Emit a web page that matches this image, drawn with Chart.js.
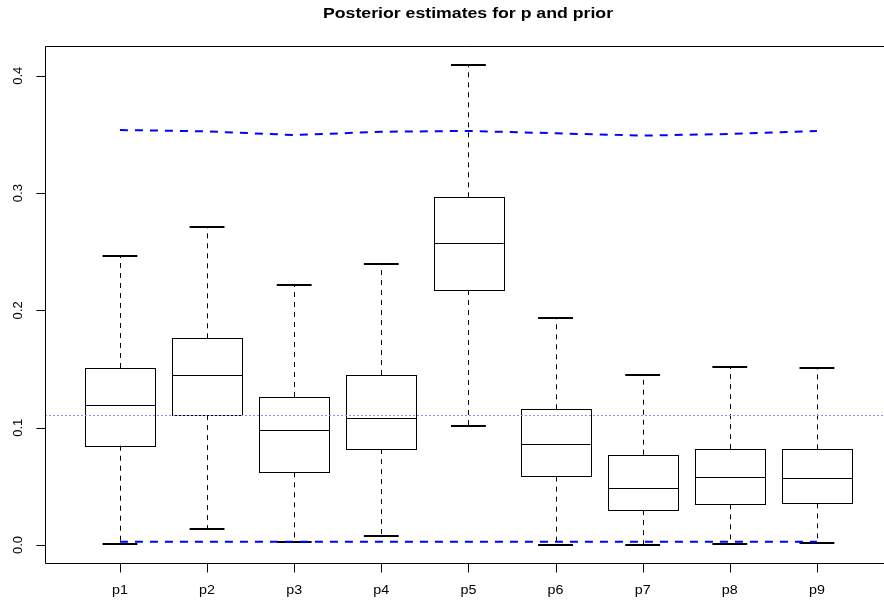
<!DOCTYPE html>
<html>
<head>
<meta charset="utf-8">
<title>Posterior estimates for p and prior</title>
<script src="https://cdn.jsdelivr.net/npm/chart.js@4.4.1/dist/chart.umd.min.js"></script>
<style>
  body { margin: 0; background: #fff; overflow: hidden; }
  #wrap { width: 884px; height: 602px; }
</style>
</head>
<body>
<div id="wrap"><canvas id="boxChart" width="884" height="602"></canvas></div>
<script>
// Box plot statistics per parameter
const categories  = ['p1', 'p2', 'p3', 'p4', 'p5', 'p6', 'p7', 'p8', 'p9'];
const whiskerLow  = [0.0006, 0.0139, 0.0025, 0.0079, 0.1014, 0.0003, 0.0003, 0.0011, 0.0017];
const quartile1   = [0.0847, 0.1108, 0.0620, 0.0818, 0.2174, 0.0583, 0.0298, 0.0347, 0.0355];
const medians     = [0.1196, 0.1447, 0.0983, 0.1085, 0.2572, 0.0861, 0.0483, 0.0583, 0.0569];
const quartile3   = [0.1509, 0.1762, 0.1262, 0.1449, 0.2964, 0.1157, 0.0770, 0.0818, 0.0815];
const whiskerHigh = [0.2464, 0.2714, 0.2217, 0.2396, 0.4095, 0.1938, 0.1449, 0.1520, 0.1506];

// Prior quantile lines and prior mean
const priorUpper = [0.3538, 0.3526, 0.3495, 0.3523, 0.3530, 0.3510, 0.3490, 0.3504, 0.3530];
const priorLower = [0.0028, 0.0028, 0.0028, 0.0028, 0.0028, 0.0028, 0.0028, 0.0028, 0.0028];
const priorMean = 1 / 9;

const yTicks = [0, 0.1, 0.2, 0.3, 0.4];
const yTickLabels = ['0.0', '0.1', '0.2', '0.3', '0.4'];

const BOX_WIDTH = 0.8;
const CAP_WIDTH = 0.4;

function crisp(v) {
    return Math.round(v) + 0.5;
}

// Text with a slight horizontal stretch, like the original device output
function stretchedText(ctx, text, x, y, font, sx) {
    ctx.save();
    ctx.translate(x, y);
    ctx.scale(sx, 1);
    ctx.font = font;
    ctx.textAlign = 'center';
    ctx.textBaseline = 'alphabetic';
    ctx.fillText(text, 0, 0);
    ctx.restore();
}

const boxPlotPlugin = {
    id: 'boxPlot',
    beforeDatasetsDraw(chart) {
        const { ctx, scales: { x, y } } = chart;
        ctx.save();
        ctx.strokeStyle = '#000';
        categories.forEach((cat, i) => {
            const pos = i + 1;
            const cx = crisp(x.getPixelForValue(pos));
            const bl = x.getPixelForValue(pos - BOX_WIDTH / 2);
            const br = x.getPixelForValue(pos + BOX_WIDTH / 2);
            const cl = x.getPixelForValue(pos - CAP_WIDTH / 2);
            const cr = x.getPixelForValue(pos + CAP_WIDTH / 2);
            const yLo = y.getPixelForValue(whiskerLow[i]);
            const yQ1 = y.getPixelForValue(quartile1[i]);
            const yMed = y.getPixelForValue(medians[i]);
            const yQ3 = y.getPixelForValue(quartile3[i]);
            const yHi = y.getPixelForValue(whiskerHigh[i]);

            // whiskers
            ctx.lineWidth = 1;
            ctx.setLineDash([5, 5]);
            ctx.beginPath();
            ctx.moveTo(cx, yQ3);
            ctx.lineTo(cx, yHi);
            ctx.moveTo(cx, yQ1);
            ctx.lineTo(cx, yLo);
            ctx.stroke();
            ctx.setLineDash([]);

            // box
            ctx.lineWidth = 1;
            ctx.strokeRect(crisp(bl), crisp(yQ3), Math.round(br - bl), Math.round(yQ1 - yQ3));

            // median
            ctx.beginPath();
            ctx.moveTo(crisp(bl), crisp(yMed));
            ctx.lineTo(crisp(br), crisp(yMed));
            ctx.stroke();

            // caps
            ctx.lineWidth = 2;
            ctx.beginPath();
            ctx.moveTo(cl, Math.round(yHi));
            ctx.lineTo(cr, Math.round(yHi));
            ctx.moveTo(cl, Math.round(yLo));
            ctx.lineTo(cr, Math.round(yLo));
            ctx.stroke();
        });

        // prior mean reference line
        const yPrior = crisp(y.getPixelForValue(priorMean));
        ctx.strokeStyle = 'rgb(140, 140, 255)';
        ctx.lineWidth = 1;
        ctx.setLineDash([2, 2]);
        ctx.beginPath();
        ctx.moveTo(chart.chartArea.left, yPrior);
        ctx.lineTo(chart.chartArea.right, yPrior);
        ctx.stroke();
        ctx.restore();
    },
    afterDraw(chart) {
        const { ctx, chartArea: area, scales: { x, y } } = chart;
        ctx.save();
        ctx.strokeStyle = '#000';
        ctx.fillStyle = '#000';
        ctx.lineWidth = 1;

        // frame (right side falls outside the window)
        const left = crisp(area.left);
        const top = crisp(area.top);
        const bottom = crisp(area.bottom);
        ctx.beginPath();
        ctx.moveTo(area.right + 10, top);
        ctx.lineTo(left, top);
        ctx.lineTo(left, bottom);
        ctx.lineTo(area.right + 10, bottom);
        ctx.stroke();

        // y axis
        ctx.beginPath();
        yTicks.forEach(v => {
            const py = crisp(y.getPixelForValue(v));
            ctx.moveTo(left, py);
            ctx.lineTo(left - 9, py);
        });
        ctx.stroke();
        yTicks.forEach((v, i) => {
            const py = y.getPixelForValue(v);
            ctx.save();
            ctx.translate(21.5, py);
            ctx.rotate(-Math.PI / 2);
            ctx.font = '13px "Liberation Sans", Arial, sans-serif';
            ctx.textAlign = 'center';
            ctx.textBaseline = 'alphabetic';
            ctx.fillText(yTickLabels[i], 0, 0);
            ctx.restore();
        });

        // x axis
        ctx.beginPath();
        categories.forEach((cat, i) => {
            const px = crisp(x.getPixelForValue(i + 1));
            ctx.moveTo(px, bottom);
            ctx.lineTo(px, bottom + 9);
        });
        ctx.stroke();
        categories.forEach((cat, i) => {
            stretchedText(ctx, cat, x.getPixelForValue(i + 1), 594,
                '13px "Liberation Sans", Arial, sans-serif', 1.1);
        });

        // title
        stretchedText(ctx, 'Posterior estimates for p and prior', 468, 18,
            'bold 15px "Liberation Sans", Arial, sans-serif', 1.18);
        ctx.restore();
    }
};

function lineData(values) {
    return values.map((v, i) => ({ x: i + 1, y: v }));
}

const ctx = document.getElementById('boxChart').getContext('2d');
const boxChart = new Chart(ctx, {
    type: 'line',
    data: {
        datasets: [{
            label: 'prior upper',
            data: lineData(priorUpper),
            borderColor: '#0000ff',
            borderWidth: 2,
            borderDash: [8, 7],
            pointRadius: 0,
            fill: false,
            tension: 0
        }, {
            label: 'prior lower',
            data: lineData(priorLower),
            borderColor: '#0000ff',
            borderWidth: 2,
            borderDash: [8, 7],
            pointRadius: 0,
            fill: false,
            tension: 0
        }]
    },
    options: {
        responsive: false,
        animation: false,
        layout: {
            padding: { left: 45, top: 46, right: 0, bottom: 39 }
        },
        plugins: {
            legend: { display: false },
            title: { display: false },
            tooltip: { enabled: false }
        },
        scales: {
            x: { type: 'linear', min: 0.14, max: 9.77, display: false },
            y: { type: 'linear', min: -0.0153, max: 0.4254, display: false }
        }
    },
    plugins: [boxPlotPlugin]
});
</script>
</body>
</html>
